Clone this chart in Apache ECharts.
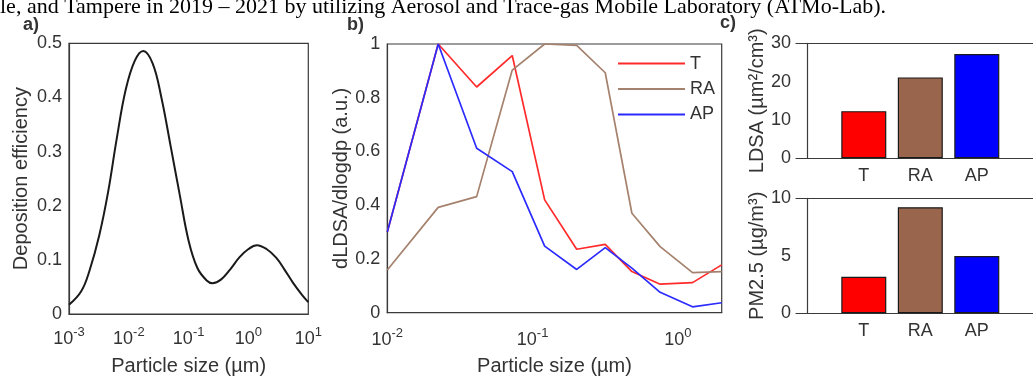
<!DOCTYPE html>
<html>
<head>
<meta charset="utf-8">
<script src="https://cdn.jsdelivr.net/npm/echarts@6/dist/echarts.min.js"></script>
<style>
  html, body { margin: 0; padding: 0; background: #fff; }
  #chart { width: 1033px; height: 381px; }
</style>
</head>
<body>
<div id="chart"></div>
<script>
// a) deposition efficiency curve
const depSizes = [0.001, 0.0016, 0.0022, 0.0032, 0.0045, 0.0063, 0.0089, 0.0126, 0.0174, 0.025, 0.035, 0.05, 0.071, 0.1, 0.14, 0.2, 0.25, 0.35, 0.5, 0.71, 1.0, 1.38, 2.0, 2.9, 4.0, 5.6, 7.9, 10];
const depEff = [0.017, 0.042, 0.08, 0.145, 0.225, 0.325, 0.415, 0.468, 0.486, 0.463, 0.40, 0.31, 0.22, 0.135, 0.085, 0.062, 0.057, 0.064, 0.083, 0.105, 0.12, 0.127, 0.12, 0.104, 0.082, 0.057, 0.035, 0.022];

// b) normalised LDSA size distributions
const binSizes = [0.01, 0.0224, 0.0412, 0.0724, 0.121, 0.201, 0.316, 0.482, 0.754, 1.26, 2.0];
const distT = [0.30, 1.0, 0.84, 0.957, 0.42, 0.236, 0.254, 0.153, 0.106, 0.112, 0.178];
const distRA = [0.159, 0.392, 0.432, 0.903, 1.0, 0.995, 0.893, 0.370, 0.246, 0.149, 0.153];
const distAP = [0.30, 1.0, 0.612, 0.525, 0.248, 0.161, 0.242, 0.166, 0.076, 0.022, 0.037];

// c) means per site
const sites = ['T', 'RA', 'AP'];
const ldsaMean = [12.3, 21.1, 27.2];
const pm25Mean = [3.18, 9.22, 4.98];

const siteColors = ['#ff0000', '#99664d', '#0000ff'];
const lineColors = ['#ff2a2a', '#a5826d', '#2b2bff'];

const fontFamily = 'Liberation Sans, Arial, sans-serif';
const textColor = '#333';
const frameColor = '#3a3a3a';

const powRich = {
  b: { fontSize: 18, lineHeight: 26, color: textColor, fontFamily },
  s: { fontSize: 13, lineHeight: 14, verticalAlign: 'top', color: textColor, fontFamily },
};

const powLabel = (v) => {
  const e = Math.log10(v);
  if (Math.abs(e - Math.round(e)) > 1e-6) return '';
  return '{b|10}{s|' + Math.round(e) + '}';
};

const gridBase = { outerBoundsMode: 'none', containLabel: false };
const frame = { ...gridBase, show: true, borderColor: frameColor, borderWidth: 1.2, backgroundColor: '#fff' };

const nameStyle = { fontSize: 20, color: textColor, fontFamily };

const baseAxis = {
  axisLine: { show: true, lineStyle: { color: frameColor, width: 1.2 } },
  axisTick: { show: false },
  splitLine: { show: false },
  nameLocation: 'middle',
  nameTextStyle: nameStyle,
};

const valueLabel = (margin) => ({
  fontSize: 18, color: textColor, fontFamily, margin,
  showMinLabel: true, showMaxLabel: true,
});

const siteLabel = {
  ...valueLabel(9),
  customValues: [1, 2, 3],
  formatter: (v) => sites[Math.round(v) - 1] || '',
};

// panel c boxes run off the right edge, so only the top line is drawn
const topLine = (gridIndex) => ({
  ...baseAxis, gridIndex, type: 'value', min: -0.2, max: 4.2, position: 'top',
  axisLabel: { show: false },
});

const chart = echarts.init(document.getElementById('chart'), null, { renderer: 'canvas' });

chart.setOption({
  animation: false,
  backgroundColor: '#fff',
  grid: [
    { left: 69, top: 43.3, width: 239.3, height: 270.7, ...frame },
    { left: 387.3, top: 44, width: 334.4, height: 268.7, ...frame },
    { left: 796, top: 43.3, width: 248.6, height: 115, ...gridBase },
    { left: 796, top: 198.3, width: 248.6, height: 115, ...gridBase },
  ],
  xAxis: [
    {
      ...baseAxis, gridIndex: 0, type: 'log', logBase: 10, min: 0.001, max: 10,
      name: 'Particle size (µm)', nameGap: 42,
      axisLabel: { formatter: powLabel, rich: powRich, margin: 12, showMinLabel: true, showMaxLabel: true },
    },
    {
      ...baseAxis, gridIndex: 1, type: 'log', logBase: 10, min: 0.01, max: 2,
      name: 'Particle size (µm)', nameGap: 44,
      axisLabel: { formatter: powLabel, rich: powRich, margin: 14, showMinLabel: true, showMaxLabel: true },
    },
    { ...baseAxis, gridIndex: 2, type: 'value', min: -0.2, max: 4.2, axisLabel: siteLabel },
    { ...baseAxis, gridIndex: 3, type: 'value', min: -0.2, max: 4.2, axisLabel: siteLabel },
    topLine(2),
    topLine(3),
  ],
  yAxis: [
    {
      ...baseAxis, gridIndex: 0, type: 'value', min: 0, max: 0.5, interval: 0.1,
      name: 'Deposition efficiency', nameGap: 38,
      axisLabel: valueLabel(7),
    },
    {
      ...baseAxis, gridIndex: 1, type: 'value', min: 0, max: 1, interval: 0.2,
      name: 'dLDSA/dlogdp (a.u.)', nameGap: 26,
      axisLabel: valueLabel(7),
    },
    {
      ...baseAxis, gridIndex: 2, type: 'value', min: 0, max: 30, interval: 10,
      name: 'LDSA (µm²/cm³)', nameGap: 27,
      axisLabel: valueLabel(5),
    },
    {
      ...baseAxis, gridIndex: 3, type: 'value', min: 0, max: 10, interval: 5,
      name: 'PM2.5 (µg/m³)', nameGap: 27,
      axisLabel: valueLabel(5),
    },
  ],
  legend: {
    data: sites,
    orient: 'vertical',
    left: 613,
    top: 49.6,
    icon: 'rect',
    itemWidth: 67,
    itemHeight: 2,
    itemGap: 7.4,
    textStyle: { fontSize: 18, color: textColor, fontFamily },
  },
  series: [
    {
      type: 'line', name: 'efficiency', xAxisIndex: 0, yAxisIndex: 0,
      data: depSizes.map((s, i) => [s, depEff[i]]),
      smooth: 0.4, symbol: 'none',
      lineStyle: { color: '#1a1a1a', width: 2 },
    },
    ...[distT, distRA, distAP].map((d, k) => ({
      type: 'line', name: sites[k], xAxisIndex: 1, yAxisIndex: 1,
      data: binSizes.map((s, i) => [s, d[i]]),
      symbol: 'none',
      color: lineColors[k],
      lineStyle: { color: lineColors[k], width: 1.7 },
    })),
    {
      type: 'bar', name: 'LDSA', xAxisIndex: 2, yAxisIndex: 2, barWidth: 45,
      data: ldsaMean.map((v, i) => ({ value: [i + 1, v], itemStyle: { color: siteColors[i] } })),
      itemStyle: { borderColor: '#1a1a1a', borderWidth: 1.2 },
    },
    {
      type: 'bar', name: 'PM2.5', xAxisIndex: 3, yAxisIndex: 3, barWidth: 45,
      data: pm25Mean.map((v, i) => ({ value: [i + 1, v], itemStyle: { color: siteColors[i] } })),
      itemStyle: { borderColor: '#1a1a1a', borderWidth: 1.2 },
    },
  ],
  graphic: [
    {
      type: 'text', x: 0, y: -3.5,
      style: {
        text: 'le, and Tampere in 2019 – 2021 by utilizing Aerosol and Trace-gas Mobile Laboratory (ATMo-Lab).',
        font: '22px "Liberation Serif", "Times New Roman", serif', fill: '#000',
      },
    },
    { type: 'text', x: 23, y: 16, style: { text: 'a)', font: 'bold 18px "Liberation Sans", Arial', fill: textColor } },
    { type: 'text', x: 347, y: 16, style: { text: 'b)', font: 'bold 18px "Liberation Sans", Arial', fill: textColor } },
    { type: 'text', x: 720, y: 14, style: { text: 'c)', font: 'bold 18px "Liberation Sans", Arial', fill: textColor } },
  ],
});
</script>
</body>
</html>
